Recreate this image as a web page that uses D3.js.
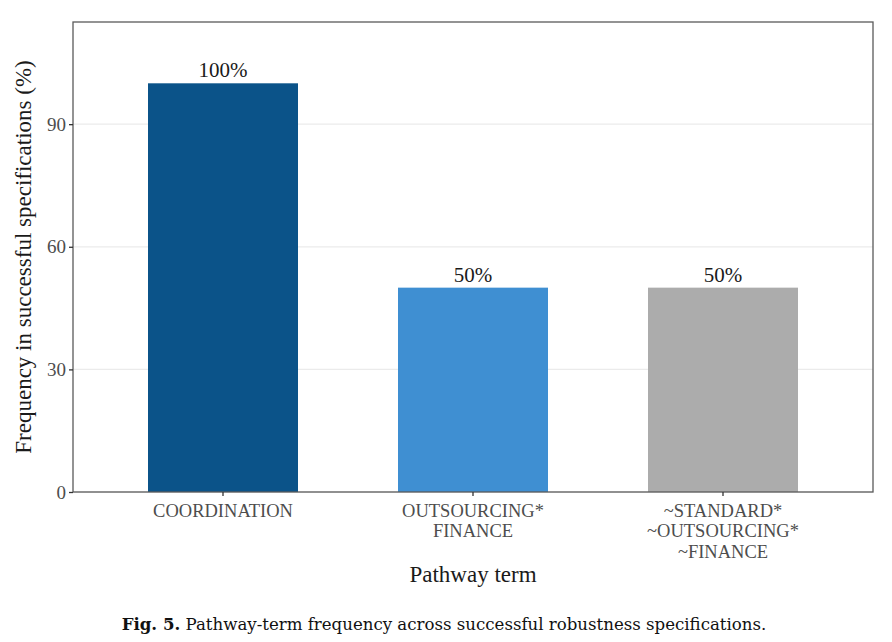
<!DOCTYPE html>
<html>
<head>
<meta charset="utf-8">
<script src="https://cdn.jsdelivr.net/npm/d3@7"></script>
<style>
body{margin:0;background:#fff;}
svg{display:block;}
</style>
</head>
<body>
<svg id="chart" width="892" height="642"></svg>
<script>
const categories = ["COORDINATION", "OUTSOURCING*\nFINANCE", "~STANDARD*\n~OUTSOURCING*\n~FINANCE"];
const values = [100, 50, 50];
const barLabels = ["100%", "50%", "50%"];
const barColors = ["#0b5389", "#3f8fd2", "#acacac"];
const yTicks = [0, 30, 60, 90];
const yTitle = "Frequency in successful specifications (%)";
const xTitle = "Pathway term";
const captionBold = "Fig. 5.";
const captionText = "Pathway-term frequency across successful robustness specifications.";

const svg = d3.select("#chart");
const font = "'Liberation Serif','Times New Roman',serif";
const m = {left: 73, right: 873, top: 22, bottom: 492};

const x = d3.scaleBand().domain(categories).range([m.left, m.right]).paddingInner(0.4).paddingOuter(0.3);
const y = d3.scaleLinear().domain([0, 115]).range([m.bottom, m.top]);

// gridlines
svg.append("g").selectAll("line").data(yTicks).join("line")
  .attr("x1", m.left).attr("x2", m.right)
  .attr("y1", d => y(d)).attr("y2", d => y(d))
  .attr("stroke", "#ebebeb").attr("stroke-width", 1.2);

// bars
svg.append("g").selectAll("rect").data(categories).join("rect")
  .attr("x", d => x(d)).attr("width", x.bandwidth())
  .attr("y", (d, i) => y(values[i])).attr("height", (d, i) => y(0) - y(values[i]))
  .attr("fill", (d, i) => barColors[i]);

// bar labels
svg.append("g").selectAll("text").data(categories).join("text")
  .attr("x", d => x(d) + x.bandwidth() / 2)
  .attr("y", (d, i) => y(values[i]) - 6)
  .attr("text-anchor", "middle")
  .attr("font-family", font).attr("font-size", 21).attr("fill", "#1a1a1a")
  .text((d, i) => barLabels[i]);

// panel border
svg.append("rect").attr("x", m.left).attr("y", m.top)
  .attr("width", m.right - m.left).attr("height", m.bottom - m.top)
  .attr("fill", "none").attr("stroke", "#5a5a5a").attr("stroke-width", 1.3);

// y axis
const yAxis = svg.append("g").attr("transform", `translate(${m.left},0)`)
  .call(d3.axisLeft(y).tickValues(yTicks).tickSize(4).tickPadding(3));
yAxis.select(".domain").remove();
yAxis.selectAll(".tick line").attr("stroke", "#333").attr("stroke-width", 1.3);
yAxis.selectAll(".tick text").attr("font-family", font).attr("font-size", 19).attr("fill", "#4d4d4d");

// x axis
const xAxis = svg.append("g").attr("transform", `translate(0,${m.bottom})`)
  .call(d3.axisBottom(x).tickSize(4).tickPadding(4).tickFormat(""));
xAxis.select(".domain").remove();
xAxis.selectAll(".tick line").attr("stroke", "#333").attr("stroke-width", 1.3);
xAxis.selectAll(".tick").each(function(d) {
  const lines = d.split("\n");
  const t = d3.select(this).append("text")
    .attr("font-family", font).attr("font-size", 18.5).attr("fill", "#4d4d4d")
    .attr("text-anchor", "middle");
  lines.forEach((ln, i) => {
    t.append("tspan").attr("x", 0).attr("y", 24.5 + i * 20.5).text(ln);
  });
});

// axis titles
svg.append("text")
  .attr("x", (m.left + m.right) / 2).attr("y", 582)
  .attr("text-anchor", "middle")
  .attr("font-family", font).attr("font-size", 23).attr("fill", "#1a1a1a")
  .text(xTitle);

svg.append("text")
  .attr("transform", `translate(31,${(m.top + m.bottom) / 2}) rotate(-90)`)
  .attr("text-anchor", "middle")
  .attr("font-family", font).attr("font-size", 23).attr("fill", "#1a1a1a")
  .text(yTitle);

// caption
const cap = svg.append("text")
  .attr("x", 444).attr("y", 630)
  .attr("text-anchor", "middle")
  .attr("font-family", "'DejaVu Serif','Liberation Serif',serif").attr("font-size", 16.6).attr("fill", "#111");
cap.append("tspan").attr("font-weight", "bold").text(captionBold);
cap.append("tspan").text(" " + captionText);
</script>
</body>
</html>
